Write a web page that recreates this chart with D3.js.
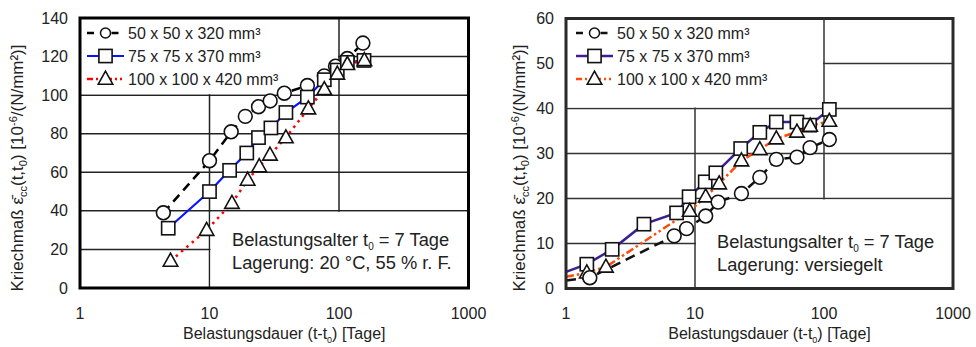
<!DOCTYPE html>
<html>
<head>
<meta charset="utf-8">
<script src="https://cdn.jsdelivr.net/npm/d3@7/dist/d3.min.js"></script>
<style>
  html, body { margin: 0; padding: 0; background: #fff; }
  svg { display: block; font-family: "Liberation Sans", Arial, sans-serif; }
</style>
</head>
<body>
<svg id="chart" width="976" height="347"></svg>
<script>
// Creep coefficient vs. loading duration, two storage conditions
const xTickValues = [1, 10, 100, 1000];
const xTickLabels = ["1", "10", "100", "1000"];
const leftYTicks = [0, 20, 40, 60, 80, 100, 120, 140];
const rightYTicks = [0, 10, 20, 30, 40, 50, 60];

const seriesNames = ["50 x 50 x 320 mm³", "75 x 75 x 370 mm³", "100 x 100 x 420 mm³"];

// Left panel: 20 °C, 55 % r. F.
const leftDays50 = [4.4, 10, 14.7, 18.9, 23.9, 29.4, 37.8, 57, 77, 94, 116, 153];
const leftVals50 = [39, 66, 81, 89, 94, 97, 101, 105, 110, 115, 119, 127];
const leftDays75 = [4.8, 10, 14.3, 19.4, 23.9, 29.8, 38.9, 57, 77, 97, 116, 156];
const leftVals75 = [31, 50, 61, 70, 78, 83, 91, 99, 108, 113, 117, 118];
const leftDays100 = [5, 9.5, 14.9, 19.7, 24.2, 29.3, 38.9, 58, 77, 97, 116, 157];
const leftVals100 = [14, 30, 44, 56, 63, 69, 78, 93, 103, 111, 116, 118];

// Right panel: sealed
const rightDays50 = [1.53, 6.9, 8.6, 12.1, 15.1, 22.9, 31.8, 42.7, 61.7, 78, 110];
const rightVals50 = [2.4, 11.7, 13.3, 16.1, 19.2, 21.1, 24.7, 28.7, 29.2, 31.3, 33.1];
const rightDays75 = [1.45, 2.28, 4.02, 7.2, 9.0, 12.0, 14.5, 22.6, 31.8, 42.7, 61.7, 77.3, 110];
const rightVals75 = [5.4, 8.7, 14.3, 16.8, 20.4, 23.7, 25.7, 31.1, 34.7, 37.0, 37.0, 36.3, 39.8];
const rightDays100 = [1.45, 2.04, 9.1, 12.1, 15.4, 22.9, 31.8, 42.7, 61.7, 78.2, 110];
const rightVals100 = [3.5, 4.8, 17.2, 20.4, 23.3, 28.4, 30.9, 33.3, 34.8, 36.1, 37.2];
// curves start at t-t0 = 1 day (no marker there)
const rightLeadDay = 1;
const rightLeadVals = [1.8, 3.7, 2.6];

const svg = d3.select("#chart");

function zip(xs, ys) { return xs.map((x, i) => ({x: x, y: ys[i]})); }

function marker(g, type, cx, cy) {
  if (type === "circle") {
    g.append("circle").attr("cx", cx).attr("cy", cy).attr("r", 6.9)
      .attr("fill", "#fff").attr("stroke", "#111").attr("stroke-width", 1.6);
  } else if (type === "square") {
    g.append("rect").attr("x", cx - 6.6).attr("y", cy - 6.6).attr("width", 13.2).attr("height", 13.2)
      .attr("fill", "#fff").attr("stroke", "#111").attr("stroke-width", 1.6);
  } else {
    const h = 13, w = 14.5;
    g.append("path")
      .attr("d", `M${cx},${cy - h * 0.6}L${cx + w / 2},${cy + h * 0.4}L${cx - w / 2},${cy + h * 0.4}Z`)
      .attr("fill", "#fff").attr("stroke", "#111").attr("stroke-width", 1.6).attr("stroke-linejoin", "miter");
  }
}

function addSubText(t, parts, small) {
  // parts: [text, shift] ; shift = 0 normal, >0 subscript, <0 superscript
  let cur = 0;
  parts.forEach(p => {
    const s = t.append("tspan").text(p[0]);
    const target = p[1];
    if (target !== cur) s.attr("dy", target - cur);
    if (target !== 0) s.attr("font-size", small);
    cur = target;
  });
}

function drawPanel(cfg) {
  const g = svg.append("g");
  const x = d3.scaleLog().domain([1, 1000]).range([cfg.x0, cfg.x1]);
  const y = d3.scaleLinear().domain([0, cfg.yMax]).range([cfg.y1, cfg.y0]);

  // grid
  const grid = g.append("g").attr("stroke", cfg.gridColor).attr("stroke-width", 1.5);
  cfg.yTicks.filter(v => v > 0 && v < cfg.yMax).forEach(v => {
    grid.append("line").attr("x1", x(1)).attr("x2", x(1000)).attr("y1", y(v)).attr("y2", y(v));
  });
  [10, 100].forEach(v => {
    grid.append("line").attr("x1", x(v)).attr("x2", x(v)).attr("y1", y(0)).attr("y2", y(cfg.yMax));
  });

  // legend box (upper left) and annotation box (lower right) blank out the grid
  g.append("rect").attr("x", x(1) + 1).attr("y", y(cfg.yMax))
    .attr("width", x(100) - x(1) - 2).attr("height", y(cfg.legendFloor) - y(cfg.yMax) - 1).attr("fill", "#fff");
  g.append("rect").attr("x", x(10) + 1).attr("y", y(cfg.noteTop) + 1)
    .attr("width", x(1000) - x(10) - 1).attr("height", y(0) - y(cfg.noteTop) - 1).attr("fill", "#fff");

  // annotation text
  const n1 = g.append("text").attr("x", cfg.noteX).attr("y", cfg.noteY).attr("font-size", 18.3).attr("fill", "#222");
  addSubText(n1, [["Belastungsalter t", 0], ["0", 4], [" = 7 Tage", 0]], 10);
  g.append("text").attr("x", cfg.noteX).attr("y", cfg.noteY + 22.5).attr("font-size", 18.3).attr("fill", "#222")
    .text(cfg.noteLine2);

  // series lines + markers
  const line = d3.line().x(d => x(d.x)).y(d => y(d.y));
  cfg.series.forEach(s => {
    g.append("path").datum(s.lineData).attr("d", line).attr("fill", "none")
      .attr("stroke", s.color).attr("stroke-width", s.width).attr("stroke-dasharray", s.dash);
  });
  cfg.drawOrder.forEach(i => {
    const s = cfg.series[i];
    const mg = g.append("g");
    s.points.forEach(d => marker(mg, s.marker, x(d.x), y(d.y)));
  });

  // legend
  cfg.series.forEach((s, i) => {
    const ly = cfg.legendY + i * 23;
    g.append("line").attr("x1", cfg.legendX).attr("x2", cfg.legendX + 37).attr("y1", ly).attr("y2", ly)
      .attr("stroke", s.color).attr("stroke-width", s.width).attr("stroke-dasharray", s.legendDash);
    const mg = g.append("g");
    if (s.marker === "circle") {
      mg.append("circle").attr("cx", cfg.legendX + 18.5).attr("cy", ly).attr("r", 5)
        .attr("fill", "#fff").attr("stroke", "#111").attr("stroke-width", 1.5);
    } else {
      marker(mg, s.marker, cfg.legendX + 18.5, ly);
    }
    g.append("text").attr("x", cfg.legendX + 41).attr("y", ly + 5.5).attr("font-size", 16).attr("fill", "#222")
      .text(seriesNames[i]);
  });

  // frame
  g.append("rect").attr("x", cfg.x0).attr("y", cfg.y0).attr("width", cfg.x1 - cfg.x0).attr("height", cfg.y1 - cfg.y0)
    .attr("fill", "none").attr("stroke", cfg.frameColor).attr("stroke-width", 3);

  // y tick labels
  g.append("g").selectAll("text").data(cfg.yTicks).join("text")
    .attr("x", cfg.x0 - 12).attr("y", d => y(d) + 5.5).attr("text-anchor", "end")
    .attr("font-size", 16).attr("fill", "#222").text(d => d);

  // x tick labels
  g.append("g").selectAll("text").data(xTickValues).join("text")
    .attr("x", d => x(d)).attr("y", 319).attr("text-anchor", "middle")
    .attr("font-size", 16).attr("fill", "#222").text((d, i) => xTickLabels[i]);

  // x axis title
  const xt = g.append("text").attr("x", (cfg.x0 + cfg.x1) / 2 + 10).attr("y", 339).attr("text-anchor", "middle")
    .attr("font-size", 16).attr("fill", "#222");
  addSubText(xt, [["Belastungsdauer (t-t", 0], ["0", 4], [") [Tage]", 0]], 9);

  // y axis title
  const yt = g.append("text").attr("transform", `translate(${cfg.yTitleX},168) rotate(-90)`)
    .attr("text-anchor", "middle").attr("font-size", 17).attr("fill", "#222");
  addSubText(yt, [["Kriechmaß ε\u0304", 0], ["cc", 4], ["(t,t", 0], ["0", 4], [") [10", 0], ["-6", -6], ["/(N/mm²)]", 0]], 11);
}

drawPanel({
  x0: 80, x1: 468.5, y0: 18, y1: 288, yMax: 140, yTicks: leftYTicks,
  gridColor: "#222", frameColor: "#000",
  legendFloor: 100, noteTop: 40,
  noteX: 232, noteY: 246, noteLine2: "Lagerung: 20 °C, 55 % r. F.",
  legendX: 87, legendY: 33, yTitleX: 23,
  series: [
    {marker: "circle", color: "#000", width: 2.5, dash: "9,6", legendDash: "7,4.5,0,13,7",
     points: zip(leftDays50, leftVals50), lineData: zip(leftDays50, leftVals50)},
    {marker: "square", color: "#0a14ff", width: 2.2, dash: null, legendDash: null,
     points: zip(leftDays75, leftVals75), lineData: zip(leftDays75, leftVals75)},
    {marker: "triangle", color: "#ff0000", width: 2.5, dash: "2.5,4.5", legendDash: "6,3,2,3,2,3",
     points: zip(leftDays100, leftVals100), lineData: zip(leftDays100, leftVals100)}
  ],
  drawOrder: [0, 1, 2]
});

drawPanel({
  x0: 566, x1: 953, y0: 18.5, y1: 288.5, yMax: 60, yTicks: rightYTicks,
  gridColor: "#333", frameColor: "#2a2a2a",
  legendFloor: 40, noteTop: 20,
  noteX: 717, noteY: 248, noteLine2: "Lagerung: versiegelt",
  legendX: 576, legendY: 33, yTitleX: 525,
  series: [
    {marker: "circle", color: "#111", width: 2.5, dash: "10,6", legendDash: "7,4.5,0,13,7",
     points: zip(rightDays50, rightVals50),
     lineData: [{x: rightLeadDay, y: rightLeadVals[0]}].concat(zip(rightDays50, rightVals50))},
    {marker: "square", color: "#3d1f91", width: 2.5, dash: null, legendDash: null,
     points: zip(rightDays75, rightVals75),
     lineData: [{x: rightLeadDay, y: rightLeadVals[1]}].concat(zip(rightDays75, rightVals75))},
    {marker: "triangle", color: "#ff4a0a", width: 2.5, dash: "8,3,2.5,3,2.5,3", legendDash: "6,3,2,3,2,3",
     points: zip(rightDays100, rightVals100),
     lineData: [{x: rightLeadDay, y: rightLeadVals[2]}].concat(zip(rightDays100, rightVals100))}
  ],
  drawOrder: [1, 2, 0]
});
</script>
</body>
</html>
